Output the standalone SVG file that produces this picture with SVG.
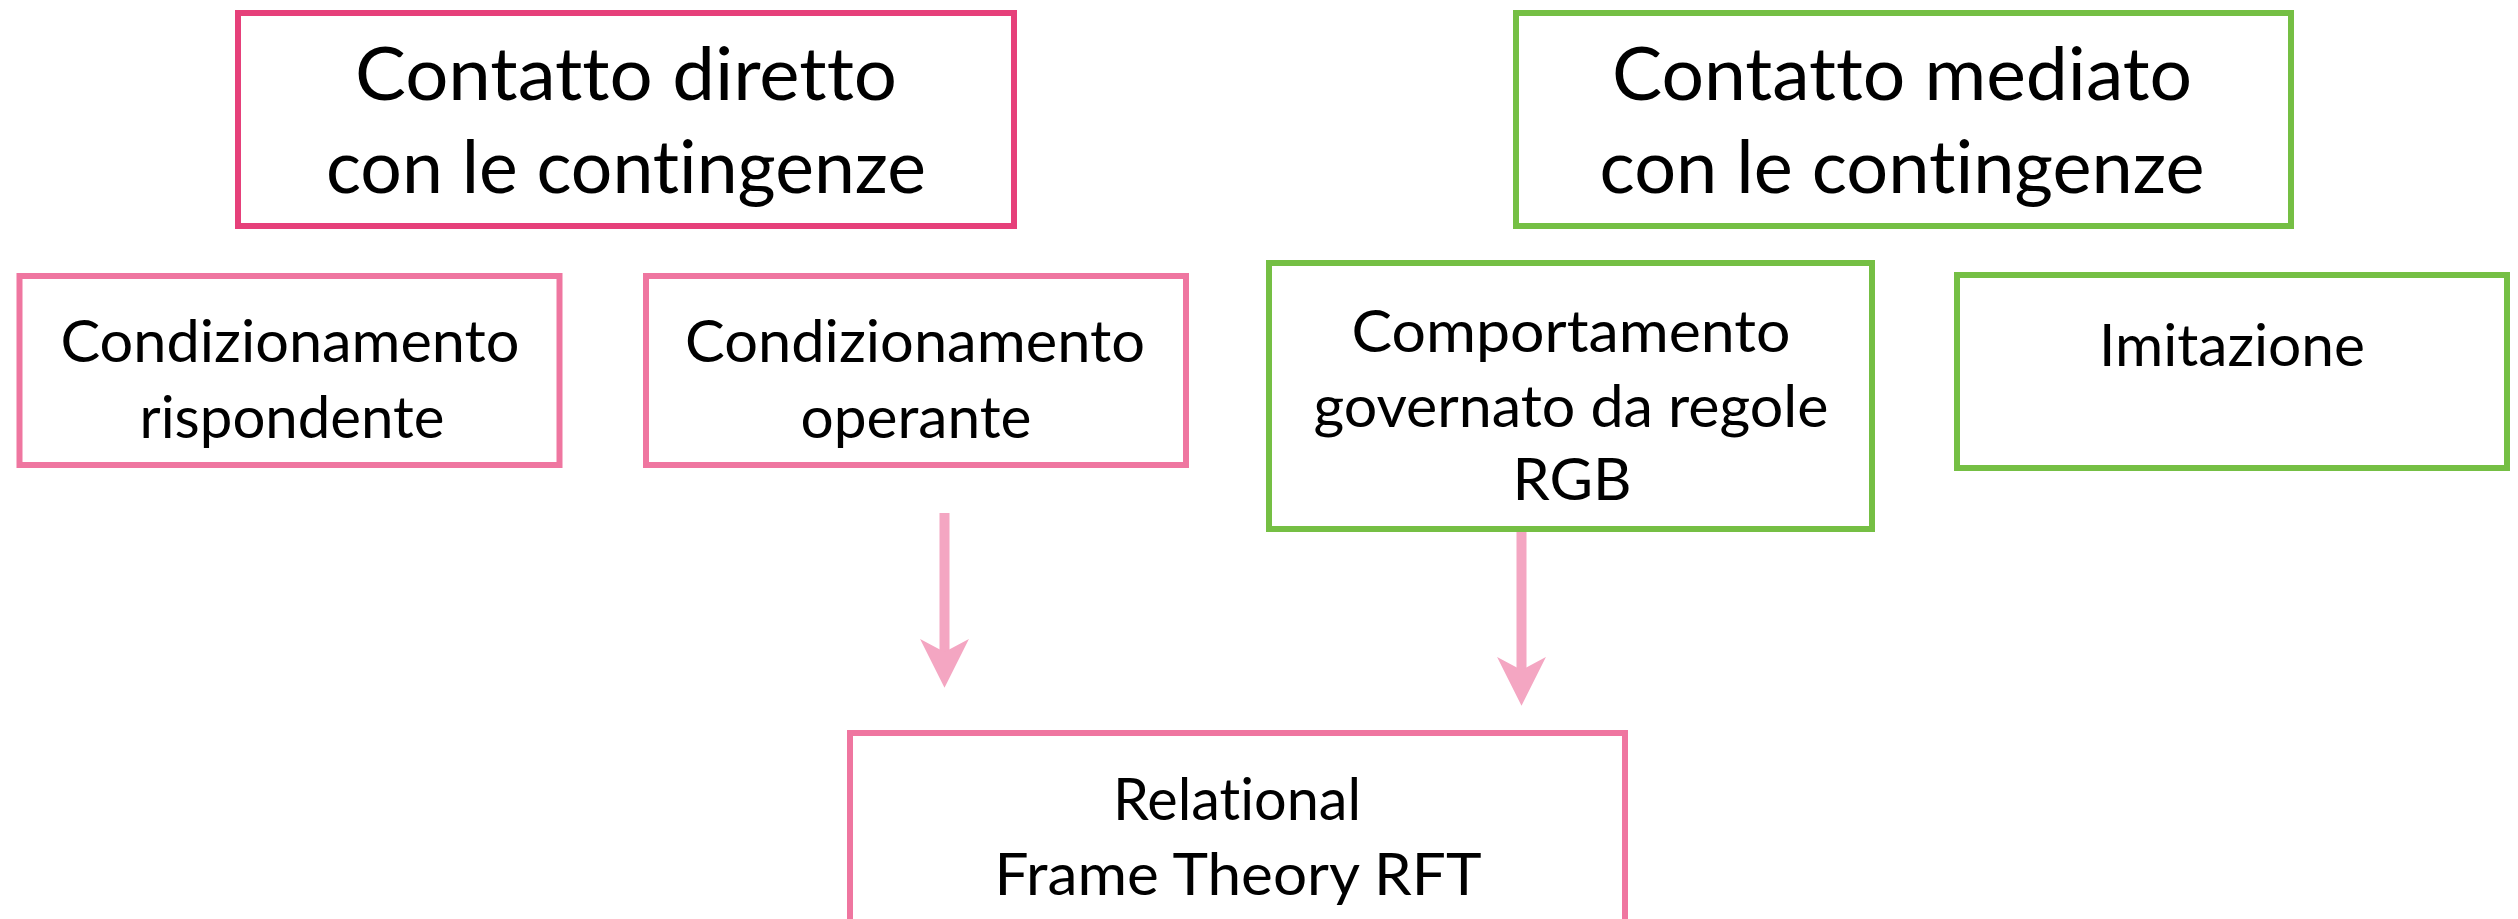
<svg xmlns="http://www.w3.org/2000/svg" width="2518" height="919" viewBox="0 0 2518 919">
<style>
.box{fill:#ffffff;stroke-width:6}
.deep{stroke:#E6407A}
.pink{stroke:#EF76A0}
.green{stroke:#75BF44}
.t{font-family:Lato,"Liberation Sans",sans-serif;fill:#000000;text-anchor:middle;font-variant-ligatures:none;font-feature-settings:"liga" 0,"dlig" 0,"clig" 0}
.big{font-size:74px}
.mid{font-size:59px}
.conn{stroke:#F4A6C2;stroke-width:10;fill:none}
</style>
<defs>
<marker id="ah" markerUnits="userSpaceOnUse" markerWidth="50" markerHeight="50" viewBox="0 -23 46 46" refX="12" refY="0" orient="auto">
<path d="M0,-22.5 L45,0 L0,22.5 L12,0 Z" fill="#F4A6C2"/>
</marker>
</defs>
<rect width="2518" height="919" fill="#ffffff"/>
<g id="n-diretto">
<rect class="box deep" x="238" y="13" width="776" height="213"/>
<text class="t big" x="626" y="100" textLength="542" lengthAdjust="spacingAndGlyphs">Contatto diretto</text>
<text class="t big" x="626" y="193" textLength="600" lengthAdjust="spacingAndGlyphs">con le contingenze</text>
</g>
<g id="n-mediato">
<rect class="box green" x="1516" y="13" width="775" height="213"/>
<text class="t big" x="1902" y="100" textLength="580" lengthAdjust="spacingAndGlyphs">Contatto mediato</text>
<text class="t big" x="1902" y="193" textLength="605" lengthAdjust="spacingAndGlyphs">con le contingenze</text>
</g>
<g id="n-rispondente">
<rect class="box pink" x="19.5" y="276" width="540" height="189"/>
<text class="t mid" x="290" y="362" textLength="459" lengthAdjust="spacingAndGlyphs">Condizionamento</text>
<text class="t mid" x="292" y="438" textLength="305" lengthAdjust="spacingAndGlyphs">rispondente</text>
</g>
<g id="n-operante">
<rect class="box pink" x="646" y="276" width="540" height="189"/>
<text class="t mid" x="915" y="362" textLength="460" lengthAdjust="spacingAndGlyphs">Condizionamento</text>
<text class="t mid" x="916" y="438" textLength="231" lengthAdjust="spacingAndGlyphs">operante</text>
</g>
<g id="n-rgb">
<rect class="box green" x="1269" y="263" width="603" height="266"/>
<text class="t mid" x="1571" y="352" textLength="439" lengthAdjust="spacingAndGlyphs">Comportamento</text>
<text class="t mid" x="1571" y="427" textLength="515" lengthAdjust="spacingAndGlyphs">governato da regole</text>
<text class="t mid" x="1572" y="500" textLength="119" lengthAdjust="spacingAndGlyphs">RGB</text>
</g>
<g id="n-imitazione">
<rect class="box green" x="1957" y="275" width="550" height="193"/>
<text class="t mid" x="2232" y="366" textLength="266" lengthAdjust="spacingAndGlyphs">Imitazione</text>
</g>
<g id="n-rft">
<rect class="box pink" x="850" y="733" width="775" height="220"/>
<text class="t mid" x="1237" y="820" textLength="248" lengthAdjust="spacingAndGlyphs">Relational</text>
<text class="t mid" x="1238" y="895" textLength="487" lengthAdjust="spacingAndGlyphs">Frame Theory RFT</text>
</g>
<g id="connectors">
<line class="conn" x1="944.5" y1="513" x2="944.5" y2="652" marker-end="url(#ah)"/>
<line class="conn" x1="1521.5" y1="532" x2="1521.5" y2="670" marker-end="url(#ah)"/>
</g>
</svg>
